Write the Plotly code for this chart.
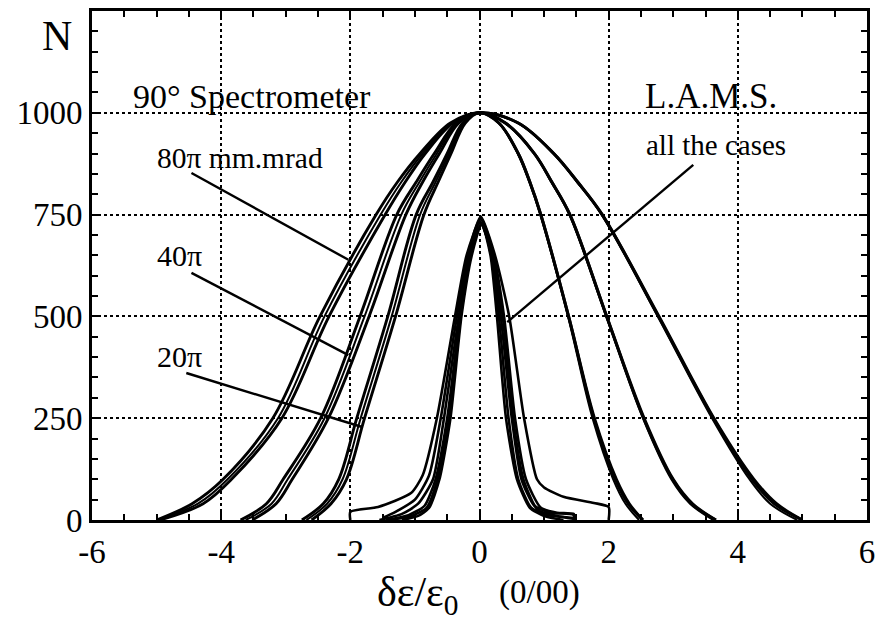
import plotly.graph_objects as go

FONT = "Liberation Serif, Times New Roman, serif"

# ---------------- data ----------------
# Broad "90 deg spectrometer" curves: x positions where each curve crosses these N levels
BROAD_LEVELS = [0, 40, 100, 250, 500, 750, 830, 900, 975]
BROAD_PEAK = 1000

# 80 pi mm.mrad family (left flank x, right flank x at BROAD_LEVELS)
b80_left = [
    [-5.00, -4.45, -3.97, -3.20, -2.47, -1.60, -1.27, -0.92, -0.45],
    [-5.00, -4.36, -3.90, -3.12, -2.40, -1.53, -1.21, -0.88, -0.43],
    [-4.95, -4.28, -3.84, -3.06, -2.33, -1.46, -1.15, -0.84, -0.41],
]
b80_right = [
    [5.00, 4.60, 4.25, 3.63, 2.78, 1.90, 1.52, 1.15, 0.60],
    [4.92, 4.50, 4.18, 3.60, 2.76, 1.89, 1.51, 1.14, 0.59],
    [5.00, 4.56, 4.22, 3.62, 2.77, 1.90, 1.52, 1.15, 0.60],
]
# 40 pi family
b40_left = [
    [-3.70, -3.30, -3.04, -2.46, -1.85, -1.28, -0.98, -0.70, -0.36],
    [-3.62, -3.22, -2.97, -2.40, -1.78, -1.21, -0.93, -0.66, -0.34],
    [-3.52, -3.15, -2.90, -2.34, -1.71, -1.14, -0.88, -0.62, -0.32],
]
b40_right = [
    [3.66, 3.30, 3.00, 2.55, 1.97, 1.40, 1.12, 0.85, 0.40],
    [3.62, 3.26, 2.97, 2.53, 1.96, 1.39, 1.11, 0.85, 0.40],
    [3.66, 3.28, 2.99, 2.54, 1.97, 1.40, 1.12, 0.85, 0.40],
]
# 20 pi family
b20_left = [
    [-2.75, -2.42, -2.18, -1.90, -1.42, -0.98, -0.72, -0.50, -0.26],
    [-2.68, -2.36, -2.12, -1.84, -1.36, -0.92, -0.68, -0.47, -0.24],
    [-2.60, -2.30, -2.06, -1.78, -1.30, -0.86, -0.64, -0.44, -0.22],
]
b20_right = [
    [2.53, 2.30, 2.10, 1.77, 1.38, 0.95, 0.78, 0.60, 0.30],
    [2.47, 2.26, 2.07, 1.75, 1.37, 0.94, 0.77, 0.59, 0.30],
    [2.53, 2.32, 2.12, 1.78, 1.38, 0.95, 0.78, 0.60, 0.30],
]

# Narrow L.A.M.S. curves ("all the cases")
lams_x = [
    [-2.00, -2.00, -1.57, -1.06, -0.88, -0.66, -0.38, -0.20, 0.02, 0.22, 0.38, 0.55, 0.72, 0.95, 1.20, 1.46, 1.46],
    [-1.50, -1.30, -1.00, -0.78, -0.60, -0.35, -0.18, 0.02, 0.24, 0.46, 0.69, 0.89, 1.00, 1.30, 1.77, 2.00, 2.00],
    [-1.55, -1.20, -0.95, -0.72, -0.55, -0.32, -0.16, 0.00, 0.20, 0.33, 0.50, 0.65, 0.85, 1.10, 1.46, 1.46],
    [-1.45, -1.10, -0.85, -0.68, -0.50, -0.30, -0.15, 0.02, 0.18, 0.30, 0.45, 0.60, 0.80, 1.05, 1.46],
    [-1.40, -1.05, -0.82, -0.65, -0.47, -0.29, -0.14, 0.03, 0.17, 0.27, 0.41, 0.58, 0.78, 1.00, 1.30],
    [-1.20, -0.95, -0.78, -0.62, -0.45, -0.28, -0.12, 0.03, 0.20, 0.36, 0.52, 0.68, 0.90, 1.20, 1.46],
]
lams_y = [
    [0, 20, 32, 66, 110, 250, 500, 650, 740, 650, 500, 250, 100, 30, 18, 15, 0],
    [5, 20, 50, 110, 250, 500, 650, 745, 650, 500, 250, 100, 80, 57, 42, 32, 0],
    [0, 15, 40, 100, 250, 500, 650, 735, 650, 500, 250, 100, 35, 18, 12, 0],
    [0, 12, 35, 100, 250, 500, 650, 740, 650, 500, 250, 100, 30, 12, 5],
    [0, 10, 30, 100, 250, 500, 650, 730, 650, 500, 250, 100, 30, 10, 0],
    [0, 10, 30, 100, 250, 500, 650, 725, 650, 500, 250, 100, 25, 10, 3],
]

x_ticks = [-6, -4, -2, 0, 2, 4, 6]
x_tick_text = ["-6", "-4", "-2", "0", "2", "4", "6"]
y_ticks = [0, 250, 500, 750, 1000]
y_tick_text = ["0", "250", "500", "750", "1000"]

# ---------------- figure ----------------
fig = go.Figure()

def broad_trace(left, right, width):
    xs = list(left) + [0.0] + list(reversed(right))
    ys = list(BROAD_LEVELS) + [BROAD_PEAK] + list(reversed(BROAD_LEVELS))
    return go.Scatter(x=xs, y=ys, mode="lines",
                      line=dict(color="black", width=width, shape="spline", smoothing=1.0),
                      showlegend=False, hoverinfo="skip")

for lefts, rights in [(b80_left, b80_right), (b40_left, b40_right), (b20_left, b20_right)]:
    for i, (l, r) in enumerate(zip(lefts, rights)):
        fig.add_trace(broad_trace(l, r, 2.9 if i != 1 else 2.0))

for xs, ys in zip(lams_x, lams_y):
    fig.add_trace(go.Scatter(x=xs, y=ys, mode="lines",
                             line=dict(color="black", width=2.6, shape="spline", smoothing=0.6),
                             showlegend=False, hoverinfo="skip"))

axis_common = dict(
    showline=True, linecolor="black", linewidth=3, mirror="allticks",
    ticks="inside", ticklen=8, tickwidth=2, tickcolor="black",
    showgrid=True, gridcolor="black", gridwidth=1.8, griddash="dot",
    zeroline=False,
    tickfont=dict(family=FONT, size=33, color="black"),
)

fig.update_xaxes(range=[-6, 6], tickmode="array", tickvals=x_ticks, ticktext=x_tick_text,
                 minor=dict(dtick=0.5, ticks="inside", ticklen=6, tickwidth=2, tickcolor="black", showgrid=False),
                 **axis_common)
fig.update_yaxes(range=[0, 1250], tickmode="array", tickvals=y_ticks, ticktext=y_tick_text,
                 minor=dict(dtick=50, ticks="inside", ticklen=6, tickwidth=2, tickcolor="black", showgrid=False),
                 **axis_common)

txt = dict(family=FONT, color="black")
annos = [
    dict(x=-5.4, y=1040, text="90° Spectrometer", xanchor="left", font=dict(size=34, **txt)),
    dict(x=2.53, y=1040, text="L.A.M.S.", xanchor="left", font=dict(size=35, **txt)),
    dict(x=2.55, y=921, text="all the cases", xanchor="left", font=dict(size=29, **txt)),
    dict(x=-5.02, y=889, text="80π mm.mrad", xanchor="left", font=dict(size=29.5, **txt)),
    dict(x=-5.02, y=650, text="40π", xanchor="left", font=dict(size=30, **txt)),
    dict(x=-5.02, y=402, text="20π", xanchor="left", font=dict(size=30, **txt)),
]
for a in annos:
    fig.add_annotation(showarrow=False, yanchor="middle", **a)

# leader lines
leaders = [
    ((-4.46, 852), (-2.03, 639)),
    ((-4.46, 607), (-2.03, 405)),
    ((-4.54, 361), (-1.83, 229)),
    ((3.31, 872), (0.43, 486)),
]
for (x0, y0), (x1, y1) in leaders:
    fig.add_shape(type="line", xref="x", yref="y", x0=x0, y0=y0, x1=x1, y1=y1,
                  line=dict(color="black", width=2.4))

# axis titles
fig.add_annotation(xref="paper", yref="paper", x=-0.045, y=0.951, text="N", showarrow=False,
                   xanchor="center", yanchor="middle", font=dict(size=42, **txt))
fig.add_annotation(xref="paper", yref="paper", x=0.42, y=-0.147, text="δε/ε<sub>0</sub>", showarrow=False,
                   xanchor="center", yanchor="middle", font=dict(size=42, **txt))
fig.add_annotation(xref="paper", yref="paper", x=0.578, y=-0.143, text="(0/00)", showarrow=False,
                   xanchor="center", yanchor="middle", font=dict(size=33, **txt))

fig.update_layout(
    width=883, height=624,
    margin=dict(l=92, r=8, t=11, b=104),
    paper_bgcolor="white", plot_bgcolor="white",
    showlegend=False,
)

fig.write_html("out.html")
